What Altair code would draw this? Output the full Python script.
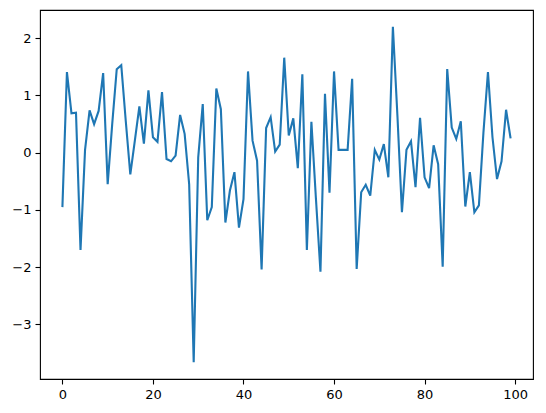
import altair as alt
import pandas as pd

values = [
    -0.95, 1.41, 0.69, 0.70, -1.70, 0.05, 0.74, 0.50, 0.73, 1.39,
    -0.55, 0.50, 1.46, 1.53, 0.55, -0.38, 0.21, 0.81, 0.16, 1.09,
    0.27, 0.19, 1.06, -0.11, -0.15, -0.05, 0.66, 0.33, -0.55, -3.66,
    -0.08, 0.85, -1.18, -0.95, 1.12, 0.76, -1.22, -0.66, -0.34, -1.31,
    -0.81, 1.42, 0.21, -0.14, -2.04, 0.43, 0.62, 0.02, 0.14, 1.66,
    0.30, 0.60, -0.27, 1.37, -1.70, 0.54, -0.80, -2.08, 1.03, -0.70,
    1.42, 0.05, 0.05, 0.05, 1.29, -2.03, -0.69, -0.56, -0.75, 0.05,
    -0.12, 0.15, -0.43, 2.20, 0.65, -1.04, 0.05, 0.20, -0.60, 0.61,
    -0.43, -0.62, 0.13, -0.20, -1.99, 1.46, 0.44, 0.24, 0.55, -0.94,
    -0.34, -1.04, -0.92, 0.35, 1.41, 0.27, -0.46, -0.15, 0.75, 0.25,
]
index = list(range(len(values)))
x_ticks = [0, 20, 40, 60, 80, 100]
y_ticks = [-3, -2, -1, 0, 1, 2]

df = pd.DataFrame({"i": index, "v": values})

xmin, xmax = min(index), max(index)
ymin, ymax = min(values), max(values)
xm = (xmax - xmin) * 0.05
ym = (ymax - ymin) * 0.05

axis_common = dict(
    grid=False,
    domain=False,
    ticks=True,
    tickColor="black",
    tickSize=5,
    tickWidth=1.1,
    labelColor="black",
    labelFont="DejaVu Sans",
    labelFontSize=13,
    labelPadding=4,
    title=None,
)

chart = (
    alt.Chart(df)
    .mark_line(color="#1f77b4", strokeWidth=2.1, clip=True)
    .encode(
        x=alt.X(
            "i:Q",
            scale=alt.Scale(domain=[xmin - xm, xmax + xm], nice=False, zero=False),
            axis=alt.Axis(values=x_ticks, format="d", **axis_common),
        ),
        y=alt.Y(
            "v:Q",
            scale=alt.Scale(domain=[ymin - ym, ymax + ym], nice=False, zero=False),
            axis=alt.Axis(
                values=y_ticks,
                format="d",
                labelExpr="replace(datum.label, '-', '\u2212')",
                **axis_common,
            ),
        ),
    )
    .properties(
        width=493,
        height=369,
        autosize=alt.AutoSizeParams(type="none"),
        padding={"left": 32, "top": 2, "right": 5, "bottom": 26},
        background="white",
    )
    .configure_view(stroke="black", strokeWidth=1.1)
)

chart.save("out.html", embed_options={"renderer": "svg", "actions": False})
